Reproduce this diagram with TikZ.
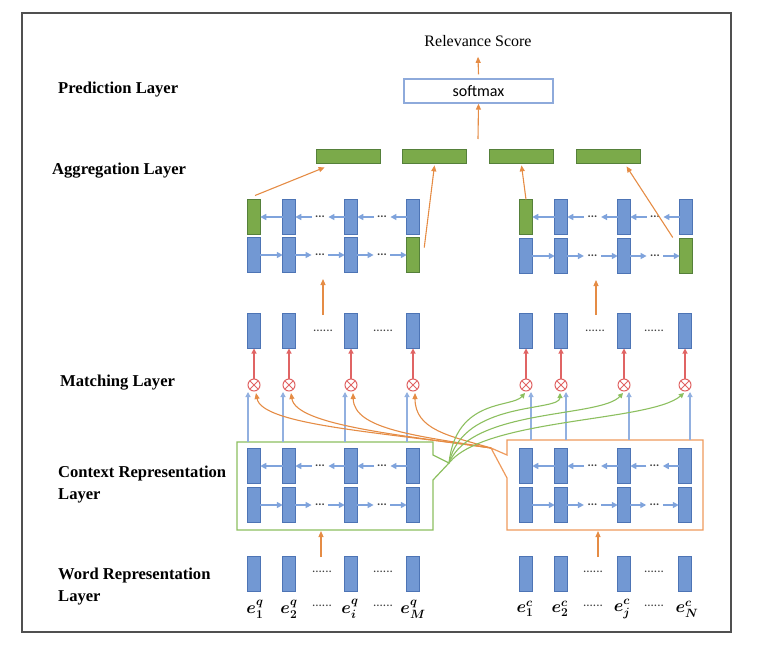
\documentclass[tikz,border=0pt]{standalone}
\usepackage{amsmath}
\usepackage{bm}
\usepackage{fontspec}
\setmainfont{Liberation Serif}
\newfontfamily\carlitofont{Carlito}
\usetikzlibrary{arrows.meta,calc}
\definecolor{bfill}{HTML}{7298D3}
\definecolor{bdraw}{HTML}{4D74B5}
\definecolor{gfill}{HTML}{7BAA4A}
\definecolor{gdraw}{HTML}{55803A}
\definecolor{arrblue}{HTML}{7FA3DC}
\definecolor{lineblue}{HTML}{92B0E0}
\definecolor{orng}{HTML}{E58C45}
\definecolor{obox}{HTML}{EE9A5C}
\definecolor{gline}{HTML}{8CBF5F}
\definecolor{mred}{HTML}{E06464}
\definecolor{smblue}{HTML}{8EAADB}
\definecolor{framegray}{HTML}{505050}
\definecolor{dotc}{HTML}{404040}
\tikzset{
 vbar/.style={draw=bdraw, fill=bfill, line width=0.7pt, minimum width=12.5pt, minimum height=35pt, inner sep=0pt, outer sep=0pt},
 gvbar/.style={vbar, draw=gdraw, fill=gfill},
 aggbar/.style={draw=gdraw, fill=gfill, line width=0.7pt, minimum width=64pt, minimum height=14pt, inner sep=0pt},
 barrow/.style={draw=arrblue, line width=1.6pt, -{Triangle[length=6pt,width=6pt]}},
 dotsnode/.style={inner sep=0pt, text=dotc, font=\carlitofont\fontsize{12}{12}\selectfont\bfseries},
 longdots/.style={inner sep=0pt, text=dotc, font=\carlitofont\fontsize{13}{13}\selectfont},
 oarrow/.style={draw=orng, line width=1.1pt, -{Triangle[length=6pt,width=5pt]}},
 rarrow/.style={draw=mred, line width=1.1pt, -{Triangle[length=5pt,width=5pt]}},
 blarrow/.style={draw=lineblue, line width=1.1pt, -{Triangle[length=5pt,width=5pt]}},
 garrow/.style={draw=gline, line width=1.1pt, -{Triangle[length=5pt,width=5pt]}},
 otimesnode/.style={circle, draw=mred, line width=1pt, minimum size=12pt, inner sep=0pt,
   path picture={\draw[mred, line width=1pt] (path picture bounding box.north west) -- (path picture bounding box.south east) (path picture bounding box.north east) -- (path picture bounding box.south west);}},
 layerlabel/.style={anchor=west, align=left, inner sep=0pt, font=\bfseries\fontsize{16.6}{22}\selectfont},
 elabel/.style={inner sep=0pt, font=\fontsize{18}{18}\selectfont},
}
\newcommand{\lstmrows}[2]{%
 \draw[barrow] (#12.west) -- (#11.east);
 \draw[barrow] ($(#12.east)!0.33!(#13.west)$) -- (#12.east);
 \node[dotsnode] (#1da) at ($(#12.east)!0.5!(#13.west)$) {...};
 \draw[barrow] (#13.west) -- ($(#12.east)!0.67!(#13.west)$);
 \draw[barrow] ($(#13.east)!0.33!(#14.west)$) -- (#13.east);
 \node[dotsnode] (#1db) at ($(#13.east)!0.5!(#14.west)$) {...};
 \draw[barrow] (#14.west) -- ($(#13.east)!0.67!(#14.west)$);
 \draw[barrow] (#21.east) -- (#22.west);
 \draw[barrow] (#22.east) -- ($(#22.east)!0.33!(#23.west)$);
 \node[dotsnode] (#2da) at ($(#22.east)!0.5!(#23.west)$) {...};
 \draw[barrow] ($(#22.east)!0.67!(#23.west)$) -- (#23.west);
 \draw[barrow] (#23.east) -- ($(#23.east)!0.33!(#24.west)$);
 \node[dotsnode] (#2db) at ($(#23.east)!0.5!(#24.west)$) {...};
 \draw[barrow] ($(#23.east)!0.67!(#24.west)$) -- (#24.west);
}
\begin{document}
\begin{tikzpicture}[x=1pt,y=-1pt]
\useasboundingbox (0,0) rectangle (757,645);
\draw[framegray, line width=1.3pt] (22,13) rectangle (731,632);

% layer labels
\node[layerlabel] (lpred) at (58,90) {Prediction Layer};
\node[layerlabel] (lagg) at (52,171) {Aggregation Layer};
\node[layerlabel] (lmatch) at (60,383) {Matching Layer};
\node[layerlabel] (lctx) at (58,485) {Context Representation\\Layer};
\node[layerlabel] (lword) at (58,587) {Word Representation\\Layer};

% prediction
\node[inner sep=0pt, font=\fontsize{16}{16}\selectfont] (rs) at (478,41) {Relevance Score};
\node[draw=smblue, line width=1.3pt, minimum width=149pt, minimum height=24pt, inner sep=0pt, font=\carlitofont\fontsize{16}{16}\selectfont] (sm) at (478.5,91) {softmax};
\coordinate (smin) at (478,139);
\draw[oarrow] (smin) -- (sm.south);
\draw[oarrow] ($(sm.north)+(0,-4)$) -- ($(rs.south)+(0,10)$);

% aggregation bars
\node[aggbar] (a1) at (348,156) {};
\node[aggbar] (a2) at (434.5,156) {};
\node[aggbar] (a3) at (521.5,156) {};
\node[aggbar] (a4) at (608.5,156) {};

% context boxes
\coordinate (gtip) at (449,463);
\coordinate (otip) at (491,448);
\draw[gline, line width=1.2pt] (237,442) -- (433,442) -- (433,455) -- (gtip) -- (433,480) -- (433,530) -- (237,530) -- cycle;
\draw[obox, line width=1.2pt] (507,440) -- (703,440) -- (703,530) -- (507,530) -- (507,478) -- (otip) -- (507,455) -- cycle;

% bars, left side
\node[gvbar] (LT1) at (254,217) {};
\foreach \i/\x in {2/289,3/351,4/413}{\node[vbar] (LT\i) at (\x,217) {};}
\foreach \i/\x in {1/254,2/289,3/351}{\node[vbar] (LB\i) at (\x,255) {};}
\node[gvbar] (LB4) at (413,255) {};
\foreach \i/\x in {1/254,2/289,3/351,4/413}{
  \node[vbar] (LM\i) at (\x,331) {};
  \node[otimesnode] (LX\i) at (\x,385) {};
  \node[vbar] (CLT\i) at (\x,466) {};
  \node[vbar] (CLB\i) at (\x,505) {};
  \node[vbar] (WL\i) at (\x,574) {};
}
% bars, right side
\node[gvbar] (RT1) at (526,217) {};
\foreach \i/\x in {2/561,3/624,4/686}{\node[vbar] (RT\i) at (\x,217) {};}
\foreach \i/\x in {1/526,2/561,3/624}{\node[vbar] (RB\i) at (\x,256) {};}
\node[gvbar] (RB4) at (686,256) {};
\foreach \i/\x in {1/526,2/561,3/624,4/685}{
  \node[vbar] (RM\i) at (\x,331) {};
  \node[otimesnode] (RX\i) at (\x,385) {};
  \node[vbar] (CRT\i) at (\x,466) {};
  \node[vbar] (CRB\i) at (\x,505) {};
  \node[vbar] (WR\i) at (\x,574) {};
}

% BiLSTM arrows
\lstmrows{LT}{LB}
\lstmrows{RT}{RB}
\lstmrows{CLT}{CLB}
\lstmrows{CRT}{CRB}

% aggregation connectors
\draw[oarrow] ($(LT1.north)+(1,-4)$) -- ($(a1.south west)+(9,4)$);
\draw[oarrow] ($(LB4.north east)+(5,10)$) -- ($(a2.south)+(0,2)$);
\draw[oarrow] (RT1.north) -- ($(a3.south)+(0,2)$);
\draw[oarrow] ($(RB4.north west)+(-7,-1)$) -- ($(a4.south)+(18,3)$);

% matching -> aggregation
\coordinate (lmo) at (323,315);
\coordinate (lagi) at (323,279);
\coordinate (rmo) at (596,315);
\coordinate (ragi) at (596,280);
\draw[oarrow] (lmo) -- (lagi);
\draw[oarrow] (rmo) -- (ragi);

% matching dots
\node[longdots] (md1) at (323,331) {......};
\node[longdots] (md2) at (383,331) {......};
\node[longdots] (md3) at (595,331) {......};
\node[longdots] (md4) at (654,331) {......};

% red arrows and blue verticals
\foreach \i in {1,...,4}{
  \draw[rarrow] (LX\i.north) -- (LM\i.south);
  \draw[rarrow] (RX\i.north) -- (RM\i.south);
  \draw[blarrow] ($(CLT\i.north)+(-6,-6.5)$) -- ($(LX\i.south)+(-6,0.5)$);
  \draw[blarrow] ($(CRT\i.north)+(5,-8.5)$) -- ($(RX\i.south)+(5,0.5)$);
}

% cross attention curves
\draw[oarrow] (otip) .. controls (380,432) and (262,425) .. ($(LX1.south)+(2,1.5)$);
\draw[oarrow] (otip) .. controls (400,435) and (296,425) .. ($(LX2.south)+(2,1.5)$);
\draw[oarrow] (otip) .. controls (420,436) and (354,430) .. ($(LX3.south)+(2,1.5)$);
\draw[oarrow] (otip) .. controls (450,436) and (415,430) .. ($(LX4.south)+(2,1.5)$);
\draw[garrow] (gtip) .. controls (456,398) and (512,408) .. ($(RX1.south)+(-1,1.5)$);
\draw[garrow] (gtip) .. controls (463,400) and (560,412) .. ($(RX2.south)+(-1,1.5)$);
\draw[garrow] (gtip) .. controls (472,408) and (600,418) .. ($(RX3.south)+(-1,1.5)$);
\draw[garrow] (gtip) .. controls (485,418) and (650,422) .. ($(RX4.south)+(-1,1.5)$);

% word -> context
\coordinate (lwo) at (321,557);
\coordinate (lci) at (321,531);
\coordinate (rwo) at (598,557);
\coordinate (rci) at (598,531);
\draw[oarrow] (lwo) -- (lci);
\draw[oarrow] (rwo) -- (rci);

% word dots
\node[longdots] (wd1) at (322,572) {......};
\node[longdots] (wd2) at (383,572) {......};
\node[longdots] (wd3) at (593,572) {......};
\node[longdots] (wd4) at (654,572) {......};

% word labels
\node[elabel] (el1) at (255,609) {$\bm{e_1^q}$};
\node[elabel] (el2) at (289,609) {$\bm{e_2^q}$};
\node[elabel] (el3) at (350,609) {$\bm{e_i^q}$};
\node[elabel] (el4) at (413,609) {$\bm{e_M^q}$};
\node[elabel] (er1) at (525,609) {$\bm{e_1^c}$};
\node[elabel] (er2) at (560,609) {$\bm{e_2^c}$};
\node[elabel] (er3) at (622,609) {$\bm{e_j^c}$};
\node[elabel] (er4) at (687,609) {$\bm{e_N^c}$};
\node[longdots] (ld1) at (322,606) {......};
\node[longdots] (ld2) at (383,606) {......};
\node[longdots] (ld3) at (593,606) {......};
\node[longdots] (ld4) at (654,606) {......};
\end{tikzpicture}
\end{document}
